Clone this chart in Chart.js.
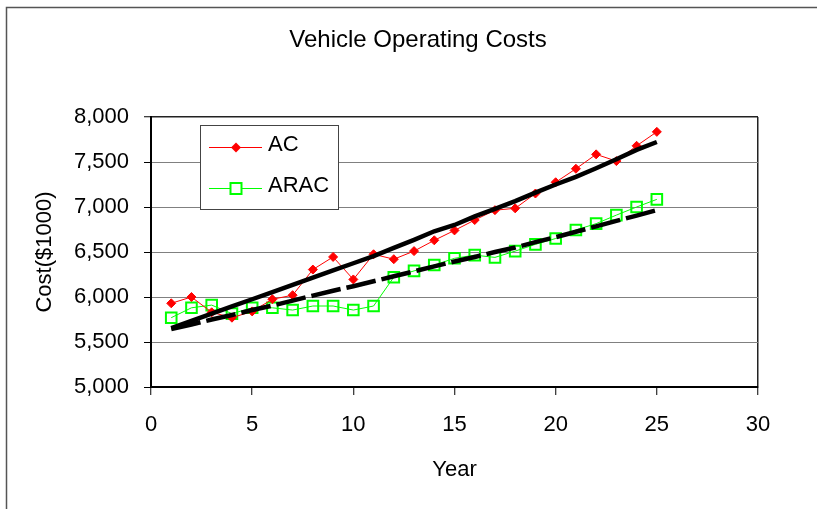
<!DOCTYPE html>
<html>
<head>
<meta charset="utf-8">
<title>Vehicle Operating Costs</title>
<script src="https://cdn.jsdelivr.net/npm/chart.js"></script>
<style>
    html, body { margin: 0; padding: 0; background: #fff; }
    canvas { display: block; }
</style>
</head>
<body>
<canvas id="costChart" width="817" height="509"></canvas>
<script>
// Chart data
const years = [1, 2, 3, 4, 5, 6, 7, 8, 9, 10, 11, 12, 13, 14, 15, 16, 17, 18, 19, 20, 21, 22, 23, 24, 25];
const acCost = [5930, 6000, 5830, 5770, 5840, 5975, 6020, 6305, 6445, 6195, 6475, 6420, 6510, 6630, 6740, 6855, 6965, 6985, 7150, 7275, 7425, 7585, 7510, 7680, 7835];
const aracCost = [5770, 5880, 5910, 5815, 5880, 5880, 5855, 5900, 5900, 5855, 5900, 6220, 6290, 6355, 6430, 6465, 6440, 6510, 6585, 6650, 6745, 6815, 6910, 7000, 7085];
const acTrend = [5655, 5735, 5815, 5895, 5975, 6055, 6135, 6215, 6295, 6375, 6455, 6545, 6635, 6730, 6800, 6895, 6980, 7065, 7160, 7250, 7335, 7430, 7530, 7635, 7722];
const aracTrend = [5645, 5695, 5750, 5800, 5855, 5905, 5960, 6015, 6070, 6120, 6175, 6230, 6285, 6340, 6395, 6445, 6500, 6550, 6610, 6665, 6725, 6785, 6845, 6905, 6965];
const seriesNames = ['AC', 'ARAC'];
const chartTitle = 'Vehicle Operating Costs';

const FONT = '"Liberation Sans", Arial, sans-serif';

document.addEventListener('DOMContentLoaded', () => {
    createCostChart();
});

function toPoints(values) {
    return years.map((year, i) => ({ x: year, y: values[i] }));
}

// Title, outer frame and the boxed legend
const decorPlugin = {
    id: 'decor',
    afterDraw(chart) {
        const ctx = chart.ctx;
        ctx.save();

        // outer frame (top + left edges)
        ctx.strokeStyle = '#555';
        ctx.lineWidth = 1.5;
        ctx.beginPath();
        ctx.moveTo(6.5, 509);
        ctx.lineTo(6.5, 7.5);
        ctx.lineTo(817, 7.5);
        ctx.stroke();

        // title
        ctx.fillStyle = '#000';
        ctx.font = '24px ' + FONT;
        ctx.textAlign = 'center';
        ctx.textBaseline = 'middle';
        ctx.fillText(chartTitle, 418, 40);

        // legend box
        ctx.fillStyle = '#fff';
        ctx.fillRect(200, 125, 138, 84);
        ctx.strokeStyle = '#444';
        ctx.lineWidth = 1;
        ctx.strokeRect(200.5, 125.5, 138, 84);

        ctx.font = '22px ' + FONT;
        ctx.textAlign = 'left';

        // AC entry
        ctx.strokeStyle = '#ff0000';
        ctx.lineWidth = 1;
        ctx.beginPath();
        ctx.moveTo(209, 147.5);
        ctx.lineTo(262, 147.5);
        ctx.stroke();
        ctx.fillStyle = '#ff0000';
        ctx.beginPath();
        ctx.moveTo(236, 142.5);
        ctx.lineTo(241, 147.5);
        ctx.lineTo(236, 152.5);
        ctx.lineTo(231, 147.5);
        ctx.closePath();
        ctx.fill();
        ctx.fillStyle = '#000';
        ctx.fillText(seriesNames[0], 268, 145);

        // ARAC entry
        ctx.strokeStyle = '#00ff00';
        ctx.beginPath();
        ctx.moveTo(209, 188.5);
        ctx.lineTo(262, 188.5);
        ctx.stroke();
        ctx.lineWidth = 2;
        ctx.fillStyle = '#fff';
        ctx.fillRect(230.5, 183, 11, 11);
        ctx.strokeRect(230.5, 183, 11, 11);
        ctx.fillStyle = '#000';
        ctx.fillText(seriesNames[1], 268, 186);

        ctx.restore();
    }
};

function createCostChart() {
    const ctx = document.getElementById('costChart').getContext('2d');

    new Chart(ctx, {
        type: 'line',
        data: {
            datasets: [
                {
                    label: 'AC trend',
                    data: toPoints(acTrend),
                    borderColor: '#000',
                    borderWidth: 4.5,
                    pointRadius: 0,
                    tension: 0
                },
                {
                    label: 'ARAC trend',
                    data: toPoints(aracTrend),
                    borderColor: '#000',
                    borderWidth: 4.5,
                    borderDash: [30, 6],
                    pointRadius: 0,
                    tension: 0
                },
                {
                    label: seriesNames[0],
                    data: toPoints(acCost),
                    borderColor: '#ff0000',
                    borderWidth: 1,
                    pointStyle: 'rectRot',
                    pointRadius: 4.5,
                    pointBackgroundColor: '#ff0000',
                    pointBorderColor: '#ff0000',
                    pointBorderWidth: 1,
                    tension: 0
                },
                {
                    label: seriesNames[1],
                    data: toPoints(aracCost),
                    borderColor: '#00ff00',
                    borderWidth: 1,
                    pointStyle: 'rect',
                    pointRadius: 7.5,
                    pointBackgroundColor: 'rgba(255,255,255,0)',
                    pointBorderColor: '#00ff00',
                    pointBorderWidth: 2,
                    tension: 0
                }
            ]
        },
        options: {
            responsive: false,
            animation: false,
            devicePixelRatio: 1,
            layout: {
                padding: { left: 0, top: 117, right: 59, bottom: 0 }
            },
            plugins: {
                legend: { display: false },
                title: { display: false },
                tooltip: { enabled: false }
            },
            scales: {
                x: {
                    type: 'linear',
                    min: 0,
                    max: 30,
                    afterFit: scale => { scale.height = 122; },
                    ticks: {
                        stepSize: 5,
                        color: '#000',
                        padding: 17,
                        font: { family: FONT, size: 22 }
                    },
                    grid: {
                        color: c => (c.tick && c.tick.value === 30) ? '#222' : 'rgba(0,0,0,0)',
                        lineWidth: 1.5,
                        tickColor: '#000',
                        tickLength: 8,
                        tickWidth: 1
                    },
                    border: { color: '#000', width: 2 },
                    title: {
                        display: true,
                        text: 'Year',
                        color: '#000',
                        font: { family: FONT, size: 22 },
                        padding: { top: 0, bottom: 26 }
                    }
                },
                y: {
                    min: 5000,
                    max: 8000,
                    afterFit: scale => { scale.width = 151; },
                    ticks: {
                        stepSize: 500,
                        color: '#000',
                        padding: 15,
                        font: { family: FONT, size: 22 },
                        callback: value => value.toLocaleString('en-US')
                    },
                    grid: {
                        color: c => (c.tick && c.tick.value === 8000) ? '#222' : '#808080',
                        lineWidth: c => (c.tick && c.tick.value === 8000) ? 1.5 : 1,
                        tickColor: '#000',
                        tickLength: 7,
                        tickWidth: 1
                    },
                    border: { color: '#000', width: 2 },
                    title: {
                        display: true,
                        text: 'Cost($1000)',
                        color: '#000',
                        font: { family: FONT, size: 22 },
                        padding: { top: 32, bottom: 0 }
                    }
                }
            }
        },
        plugins: [decorPlugin]
    });
}
</script>
</body>
</html>
